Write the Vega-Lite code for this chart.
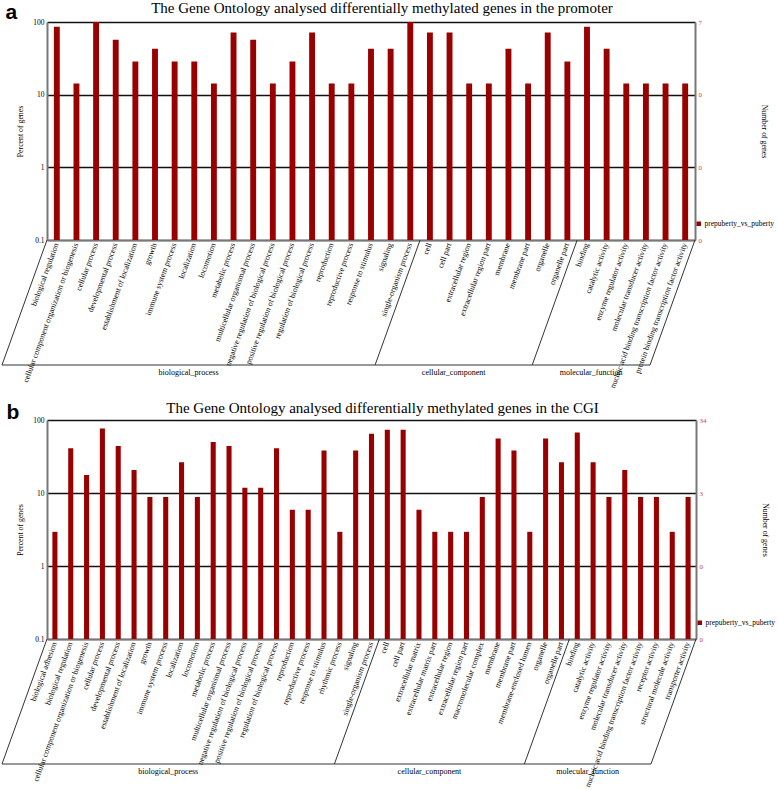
{
  "$schema": "https://vega.github.io/schema/vega-lite/v6.json",
  "padding": {"left": 1, "top": 1, "right": 0, "bottom": 0},
  "bounds": "flush",
  "spacing": 180,
  "resolve": {"scale": {"color": "independent"}, "legend": {"color": "independent"}},
  "config": {
    "view": {"stroke": null},
    "font": "Liberation Serif",
    "axis": {"labelFont": "Liberation Serif", "titleFont": "Liberation Serif", "labelColor": "#000", "titleColor": "#000", "titleFontWeight": "normal"},
    "legend": {"labelFont": "Liberation Serif"}
  },
  "datasets": {
    "a": [
      {"group": "biological_process", "term": "biological regulation", "pct": 85.71},
      {"group": "biological_process", "term": "cellular component organization or biogenesis", "pct": 14.29},
      {"group": "biological_process", "term": "cellular process", "pct": 100},
      {"group": "biological_process", "term": "developmental process", "pct": 57.14},
      {"group": "biological_process", "term": "establishment of localization", "pct": 28.57},
      {"group": "biological_process", "term": "growth", "pct": 42.86},
      {"group": "biological_process", "term": "immune system process", "pct": 28.57},
      {"group": "biological_process", "term": "localization", "pct": 28.57},
      {"group": "biological_process", "term": "locomotion", "pct": 14.29},
      {"group": "biological_process", "term": "metabolic process", "pct": 71.43},
      {"group": "biological_process", "term": "multicellular organismal process", "pct": 57.14},
      {"group": "biological_process", "term": "negative regulation of biological process", "pct": 14.29},
      {"group": "biological_process", "term": "positive regulation of biological process", "pct": 28.57},
      {"group": "biological_process", "term": "regulation of biological process", "pct": 71.43},
      {"group": "biological_process", "term": "reproduction", "pct": 14.29},
      {"group": "biological_process", "term": "reproductive process", "pct": 14.29},
      {"group": "biological_process", "term": "response to stimulus", "pct": 42.86},
      {"group": "biological_process", "term": "signaling", "pct": 42.86},
      {"group": "biological_process", "term": "single-organism process", "pct": 100},
      {"group": "cellular_component", "term": "cell", "pct": 71.43},
      {"group": "cellular_component", "term": "cell part", "pct": 71.43},
      {"group": "cellular_component", "term": "extracellular region", "pct": 14.29},
      {"group": "cellular_component", "term": "extracellular region part", "pct": 14.29},
      {"group": "cellular_component", "term": "membrane", "pct": 42.86},
      {"group": "cellular_component", "term": "membrane part", "pct": 14.29},
      {"group": "cellular_component", "term": "organelle", "pct": 71.43},
      {"group": "cellular_component", "term": "organelle part", "pct": 28.57},
      {"group": "molecular_function", "term": "binding", "pct": 85.71},
      {"group": "molecular_function", "term": "catalytic activity", "pct": 42.86},
      {"group": "molecular_function", "term": "enzyme regulator activity", "pct": 14.29},
      {"group": "molecular_function", "term": "molecular transducer activity", "pct": 14.29},
      {"group": "molecular_function", "term": "nucleic acid binding transcription factor activity", "pct": 14.29},
      {"group": "molecular_function", "term": "protein binding transcription factor activity", "pct": 14.29}
    ],
    "b": [
      {"group": "biological_process", "term": "biological adhesion", "pct": 2.94},
      {"group": "biological_process", "term": "biological regulation", "pct": 41.18},
      {"group": "biological_process", "term": "cellular component organization or biogenesis", "pct": 17.65},
      {"group": "biological_process", "term": "cellular process", "pct": 76.47},
      {"group": "biological_process", "term": "developmental process", "pct": 44.12},
      {"group": "biological_process", "term": "establishment of localization", "pct": 20.59},
      {"group": "biological_process", "term": "growth", "pct": 8.82},
      {"group": "biological_process", "term": "immune system process", "pct": 8.82},
      {"group": "biological_process", "term": "localization", "pct": 26.47},
      {"group": "biological_process", "term": "locomotion", "pct": 8.82},
      {"group": "biological_process", "term": "metabolic process", "pct": 50},
      {"group": "biological_process", "term": "multicellular organismal process", "pct": 44.12},
      {"group": "biological_process", "term": "negative regulation of biological process", "pct": 11.76},
      {"group": "biological_process", "term": "positive regulation of biological process", "pct": 11.76},
      {"group": "biological_process", "term": "regulation of biological process", "pct": 41.18},
      {"group": "biological_process", "term": "reproduction", "pct": 5.88},
      {"group": "biological_process", "term": "reproductive process", "pct": 5.88},
      {"group": "biological_process", "term": "response to stimulus", "pct": 38.24},
      {"group": "biological_process", "term": "rhythmic process", "pct": 2.94},
      {"group": "biological_process", "term": "signaling", "pct": 38.24},
      {"group": "biological_process", "term": "single-organism process", "pct": 64.71},
      {"group": "cellular_component", "term": "cell", "pct": 73.53},
      {"group": "cellular_component", "term": "cell part", "pct": 73.53},
      {"group": "cellular_component", "term": "extracellular matrix", "pct": 5.88},
      {"group": "cellular_component", "term": "extracellular matrix part", "pct": 2.94},
      {"group": "cellular_component", "term": "extracellular region", "pct": 2.94},
      {"group": "cellular_component", "term": "extracellular region part", "pct": 2.94},
      {"group": "cellular_component", "term": "macromolecular complex", "pct": 8.82},
      {"group": "cellular_component", "term": "membrane", "pct": 55.88},
      {"group": "cellular_component", "term": "membrane part", "pct": 38.24},
      {"group": "cellular_component", "term": "membrane-enclosed lumen", "pct": 2.94},
      {"group": "cellular_component", "term": "organelle", "pct": 55.88},
      {"group": "cellular_component", "term": "organelle part", "pct": 26.47},
      {"group": "molecular_function", "term": "binding", "pct": 67.65},
      {"group": "molecular_function", "term": "catalytic activity", "pct": 26.47},
      {"group": "molecular_function", "term": "enzyme regulator activity", "pct": 8.82},
      {"group": "molecular_function", "term": "molecular transducer activity", "pct": 20.59},
      {"group": "molecular_function", "term": "nucleic acid binding transcription factor activity", "pct": 8.82},
      {"group": "molecular_function", "term": "receptor activity", "pct": 8.82},
      {"group": "molecular_function", "term": "structural molecule activity", "pct": 2.94},
      {"group": "molecular_function", "term": "transporter activity", "pct": 8.82}
    ]
  },
  "vconcat": [
    {
      "width": 648,
      "height": 218,
      "data": {"name": "a"},
      "title": {"text": "The Gene Ontology analysed differentially methylated genes in the promoter", "anchor": "middle", "frame": "group", "dx": 11, "dy": 21, "offset": 6, "fontSize": 15, "font": "Liberation Serif", "fontWeight": "normal", "color": "#000"},
      "layer": [
        {
          "mark": {"type": "bar"},
          "encoding": {
            "x": {"field": "term", "type": "nominal", "sort": null, "scale": {"paddingInner": 0.7, "paddingOuter": 0.35},
              "axis": {"title": null, "labelAngle": -70, "labelAlign": "right", "labelBaseline": "middle", "labelFontSize": 8, "labelPadding": 3, "ticks": false, "domainColor": "#777", "domainWidth": 2, "labelLimit": 0}},
            "y": {"field": "pct", "type": "quantitative", "stack": null, "scale": {"type": "log", "domain": [0.1, 100]},
              "axis": {"orient": "left", "values": [0.1, 1, 10, 100], "format": "~g", "grid": true, "gridColor": {"condition": {"test": "datum.value < 0.5", "value": "#777"}, "value": "#111"}, "gridWidth": 1.5, "ticks": false, "domainColor": "#777", "domainWidth": 2, "labelFontSize": 7.5, "labelPadding": 3, "title": "Percent of genes", "titleFontSize": 7.8, "titlePadding": 8}},
            "color": {"datum": "prepuberty_vs_puberty", "type": "nominal", "scale": {"range": ["#990000"]},
              "legend": {"orient": "none", "legendX": 648, "legendY": 198, "title": null, "symbolType": "square", "symbolSize": 20, "labelFontSize": 7.5, "padding": 0, "labelOffset": 2, "symbolStrokeWidth": 0}}
          }
        },
        {
          "mark": {"type": "point", "opacity": 0},
          "encoding": {
            "x": {"field": "term", "type": "nominal", "sort": null, "scale": {"paddingInner": 0.7, "paddingOuter": 0.35},
              "axis": {"orient": "top", "labels": false, "ticks": false, "domain": false, "title": "a", "titleFont": "Liberation Sans", "titleFontSize": 21, "titleFontWeight": "bold", "titleAnchor": "start", "titleAlign": "left", "titleBaseline": "alphabetic", "titleX": -42, "titleY": -4}},
            "y": {"field": "pct", "type": "quantitative", "scale": {"type": "log", "domain": [0.1, 100]},
              "axis": {"orient": "right", "values": [0.1, 1, 10, 100], "labelExpr": "floor(datum.value*7/100)", "grid": false, "ticks": false, "domainColor": "#777", "domainWidth": 2, "labelColor": "#e04040", "labelFontSize": 7, "labelPadding": 3, "title": "Number of genes", "titleFontSize": 7.8, "titlePadding": 58}}
          }
        },
        {
          "transform": [
            {"window": [{"op": "row_number", "as": "idx"}]},
            {"aggregate": [{"op": "min", "field": "idx", "as": "lo"}, {"op": "max", "field": "idx", "as": "hi"}, {"op": "mean", "field": "idx", "as": "mid"}], "groupby": ["group"]}
          ],
          "layer": [
            {
              "mark": {"type": "rule", "color": "#333", "strokeWidth": 1, "xOffset": -9.82, "x2Offset": -54.82, "y2Offset": 125, "clip": false},
              "encoding": {
                "x": {"field": "lo", "type": "quantitative", "scale": {"domain": [0.5, 33.5], "nice": false, "zero": false}, "axis": null},
                "x2": {"field": "lo"},
                "y": {"datum": 0.1, "type": "quantitative", "scale": {"type": "log", "domain": [0.1, 100]}, "axis": null},
                "y2": {"datum": 0.1}
              }
            },
            {
              "transform": [{"filter": {"field": "group", "equal": "molecular_function"}}],
              "mark": {"type": "rule", "color": "#333", "strokeWidth": 1, "xOffset": 9.82, "x2Offset": -35.18, "y2Offset": 125, "clip": false},
              "encoding": {
                "x": {"field": "hi", "type": "quantitative", "scale": {"domain": [0.5, 33.5], "nice": false, "zero": false}, "axis": null},
                "x2": {"field": "hi"},
                "y": {"datum": 0.1, "type": "quantitative", "scale": {"type": "log", "domain": [0.1, 100]}, "axis": null},
                "y2": {"datum": 0.1}
              }
            },
            {
              "mark": {"type": "rule", "color": "#333", "strokeWidth": 1, "xOffset": -54.82, "x2Offset": -35.18, "yOffset": 125, "clip": false},
              "encoding": {
                "x": {"field": "lo", "type": "quantitative", "scale": {"domain": [0.5, 33.5], "nice": false, "zero": false}, "axis": null},
                "x2": {"field": "hi"},
                "y": {"datum": 0.1, "type": "quantitative", "scale": {"type": "log", "domain": [0.1, 100]}, "axis": null}
              }
            },
            {
              "mark": {"type": "text", "xOffset": -45, "yOffset": 133, "font": "Liberation Serif", "fontSize": 8, "baseline": "middle", "color": "#000"},
              "encoding": {
                "x": {"field": "mid", "type": "quantitative", "scale": {"domain": [0.5, 33.5], "nice": false, "zero": false}, "axis": null},
                "y": {"datum": 0.1, "type": "quantitative", "scale": {"type": "log", "domain": [0.1, 100]}, "axis": null},
                "text": {"field": "group"}
              }
            }
          ]
        }
      ],
      "resolve": {"scale": {"x": "independent"}, "axis": {"x": "independent", "y": "independent"}}
    },
    {
      "width": 649,
      "height": 219,
      "data": {"name": "b"},
      "title": {"text": "The Gene Ontology analysed differentially methylated genes in the CGI", "anchor": "middle", "frame": "group", "dx": 11, "dy": 21, "offset": 6, "fontSize": 15, "font": "Liberation Serif", "fontWeight": "normal", "color": "#000"},
      "layer": [
        {
          "mark": {"type": "bar"},
          "encoding": {
            "x": {"field": "term", "type": "nominal", "sort": null, "scale": {"paddingInner": 0.68, "paddingOuter": 0.34},
              "axis": {"title": null, "labelAngle": -70, "labelAlign": "right", "labelBaseline": "middle", "labelFontSize": 8, "labelPadding": 3, "ticks": false, "domainColor": "#777", "domainWidth": 2, "labelLimit": 0}},
            "y": {"field": "pct", "type": "quantitative", "stack": null, "scale": {"type": "log", "domain": [0.1, 100]},
              "axis": {"orient": "left", "values": [0.1, 1, 10, 100], "format": "~g", "grid": true, "gridColor": {"condition": {"test": "datum.value < 0.5", "value": "#777"}, "value": "#111"}, "gridWidth": 1.5, "ticks": false, "domainColor": "#777", "domainWidth": 2, "labelFontSize": 7.5, "labelPadding": 3, "title": "Percent of genes", "titleFontSize": 7.8, "titlePadding": 8}},
            "color": {"datum": "prepuberty_vs_puberty", "type": "nominal", "scale": {"range": ["#990000"]},
              "legend": {"orient": "none", "legendX": 649, "legendY": 199, "title": null, "symbolType": "square", "symbolSize": 20, "labelFontSize": 7.5, "padding": 0, "labelOffset": 2, "symbolStrokeWidth": 0}}
          }
        },
        {
          "mark": {"type": "point", "opacity": 0},
          "encoding": {
            "x": {"field": "term", "type": "nominal", "sort": null, "scale": {"paddingInner": 0.68, "paddingOuter": 0.34},
              "axis": {"orient": "top", "labels": false, "ticks": false, "domain": false, "title": "b", "titleFont": "Liberation Sans", "titleFontSize": 21, "titleFontWeight": "bold", "titleAnchor": "start", "titleAlign": "left", "titleBaseline": "alphabetic", "titleX": -41, "titleY": -2}},
            "y": {"field": "pct", "type": "quantitative", "scale": {"type": "log", "domain": [0.1, 100]},
              "axis": {"orient": "right", "values": [0.1, 1, 10, 100], "labelExpr": "floor(datum.value*34/100)", "grid": false, "ticks": false, "domainColor": "#777", "domainWidth": 2, "labelColor": "#e04040", "labelFontSize": 7, "labelPadding": 3, "title": "Number of genes", "titleFontSize": 7.8, "titlePadding": 54}}
          }
        },
        {
          "transform": [
            {"window": [{"op": "row_number", "as": "idx"}]},
            {"aggregate": [{"op": "min", "field": "idx", "as": "lo"}, {"op": "max", "field": "idx", "as": "hi"}, {"op": "mean", "field": "idx", "as": "mid"}], "groupby": ["group"]}
          ],
          "layer": [
            {
              "mark": {"type": "rule", "color": "#333", "strokeWidth": 1, "xOffset": -7.915, "x2Offset": -52.915, "y2Offset": 125, "clip": false},
              "encoding": {
                "x": {"field": "lo", "type": "quantitative", "scale": {"domain": [0.5, 41.5], "nice": false, "zero": false}, "axis": null},
                "x2": {"field": "lo"},
                "y": {"datum": 0.1, "type": "quantitative", "scale": {"type": "log", "domain": [0.1, 100]}, "axis": null},
                "y2": {"datum": 0.1}
              }
            },
            {
              "transform": [{"filter": {"field": "group", "equal": "molecular_function"}}],
              "mark": {"type": "rule", "color": "#333", "strokeWidth": 1, "xOffset": 7.915, "x2Offset": -37.085, "y2Offset": 125, "clip": false},
              "encoding": {
                "x": {"field": "hi", "type": "quantitative", "scale": {"domain": [0.5, 41.5], "nice": false, "zero": false}, "axis": null},
                "x2": {"field": "hi"},
                "y": {"datum": 0.1, "type": "quantitative", "scale": {"type": "log", "domain": [0.1, 100]}, "axis": null},
                "y2": {"datum": 0.1}
              }
            },
            {
              "mark": {"type": "rule", "color": "#333", "strokeWidth": 1, "xOffset": -52.915, "x2Offset": -37.085, "yOffset": 125, "clip": false},
              "encoding": {
                "x": {"field": "lo", "type": "quantitative", "scale": {"domain": [0.5, 41.5], "nice": false, "zero": false}, "axis": null},
                "x2": {"field": "hi"},
                "y": {"datum": 0.1, "type": "quantitative", "scale": {"type": "log", "domain": [0.1, 100]}, "axis": null}
              }
            },
            {
              "mark": {"type": "text", "xOffset": -45, "yOffset": 133, "font": "Liberation Serif", "fontSize": 8, "baseline": "middle", "color": "#000"},
              "encoding": {
                "x": {"field": "mid", "type": "quantitative", "scale": {"domain": [0.5, 41.5], "nice": false, "zero": false}, "axis": null},
                "y": {"datum": 0.1, "type": "quantitative", "scale": {"type": "log", "domain": [0.1, 100]}, "axis": null},
                "text": {"field": "group"}
              }
            }
          ]
        }
      ],
      "resolve": {"scale": {"x": "independent"}, "axis": {"x": "independent", "y": "independent"}}
    }
  ]
}
